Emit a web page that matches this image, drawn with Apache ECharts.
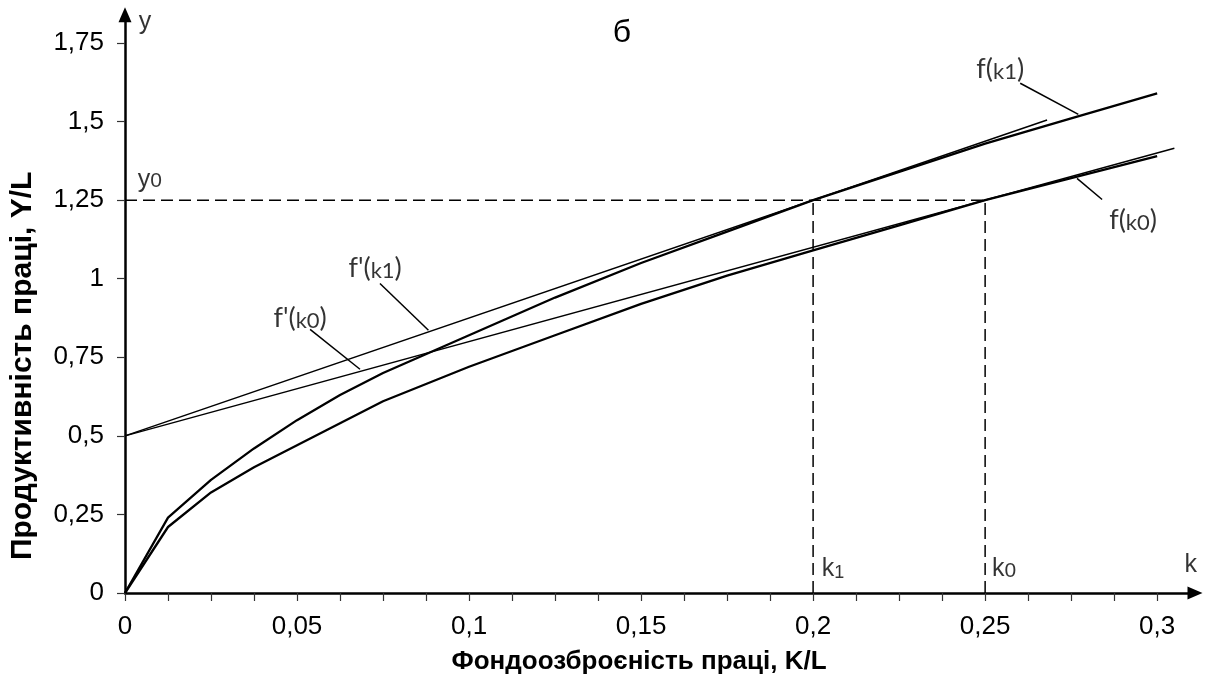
<!DOCTYPE html>
<html>
<head>
<meta charset="utf-8">
<script src="https://cdn.jsdelivr.net/npm/echarts@6/dist/echarts.min.js"></script>
<style>html,body{margin:0;padding:0;background:#fff}#c{width:1211px;height:691px}</style>
</head>
<body>
<div id="c"></div>
<script>
// ---- data ----
const kValues   = [0, 0.0125, 0.025, 0.0375, 0.05, 0.0625, 0.075, 0.1, 0.125, 0.15, 0.175, 0.2, 0.225, 0.25, 0.275, 0.3];
const fK1Values = [0, 0.24, 0.36, 0.46, 0.55, 0.63, 0.70, 0.82, 0.94, 1.05, 1.15, 1.25, 1.34, 1.43, 1.51, 1.59];
const fK0Values = [0, 0.21, 0.32, 0.40, 0.47, 0.54, 0.61, 0.72, 0.82, 0.92, 1.01, 1.09, 1.17, 1.25, 1.32, 1.39];
const tangentK1 = [[0, 0.5], [0.268, 1.505]];
const tangentK0 = [[0, 0.5], [0.305, 1.415]];
const k1 = 0.2, k0 = 0.25, y0 = 1.25;
const xTickValues  = [0,0.0125,0.025,0.0375,0.05,0.0625,0.075,0.0875,0.1,0.1125,0.125,0.1375,0.15,0.1625,0.175,0.1875,0.2,0.2125,0.225,0.2375,0.25,0.2625,0.275,0.2875,0.3];
const xLabelValues = [0, 0.05, 0.1, 0.15, 0.2, 0.25, 0.3];
const yTickValues  = [0, 0.25, 0.5, 0.75, 1, 1.25, 1.5, 1.75];
const title = 'б';
const xName = 'Фондоозброєність праці, K/L';
const yName = 'Продуктивність праці, Y/L';

const comma = v => String(+v.toFixed(4)).replace('.', ',');
const pairs = (xs, ys) => xs.map((x, i) => [x, ys[i]]);

// annotations
const annotations = [
  {fmt: '{a|f(}{b|k1}{a|)}', at: [0.2544, 1.672]},
  {fmt: '{a|f(}{b|k0}{a|)}', at: [0.293, 1.190]},
  {fmt: "{a|f'(}{b|k1}{a|)}", at: [0.0727, 1.037]},
  {fmt: "{a|f'(}{b|k0}{a|)}", at: [0.0509, 0.878]}
];
const leaders = [
  [[0.2602, 1.622], [0.2771, 1.523]],
  [[0.2767, 1.319], [0.2840, 1.252]],
  [[0.0741, 0.985], [0.0882, 0.836]],
  [[0.0538, 0.839], [0.0683, 0.712]]
];
const axisMarks = [
  {fmt: '{m|y}', at: [0.0058, 1.82]},
  {fmt: '{m|y}{s|0}', at: [0.0072, 1.32]},
  {fmt: '{m|k}{u|1}', at: [0.2058, 0.08]},
  {fmt: '{m|k}{s|0}', at: [0.2555, 0.08]},
  {fmt: '{m|k}', at: [0.3098, 0.095]}
];

const chart = echarts.init(document.getElementById('c'), null, {renderer: 'canvas'});

const lineSeries = (data, w, dashed) => ({
  type: 'line', data, symbol: 'none', silent: true, z: 3,
  lineStyle: {color: '#000', width: w, type: dashed ? [12, 6] : 'solid'},
  animation: false
});

const series = [
  lineSeries(pairs(kValues, fK1Values), 2.3),
  lineSeries(pairs(kValues, fK0Values), 2.3),
  lineSeries(tangentK1, 1.5),
  lineSeries(tangentK0, 1.5),
  lineSeries([[0, y0], [k0, y0]], 1.5, true),
  lineSeries([[k1, 0], [k1, y0]], 1.5, true),
  lineSeries([[k0, 0], [k0, y0]], 1.5, true)
];
leaders.forEach(l => series.push(lineSeries(l, 1.5)));

const rich = {
  a: {fontFamily: 'Lato', fontSize: 27, color: '#000', verticalAlign: 'bottom', lineHeight: 30},
  b: {fontFamily: 'Lato', fontSize: 22, color: '#000', verticalAlign: 'bottom', lineHeight: 27},
  m: {fontFamily: 'Liberation Sans', fontSize: 25, color: '#000', verticalAlign: 'bottom', lineHeight: 28},
  s: {fontFamily: 'Liberation Sans', fontSize: 21, color: '#000', verticalAlign: 'bottom', lineHeight: 26},
  u: {fontFamily: 'Liberation Sans', fontSize: 18, color: '#000', verticalAlign: 'bottom', lineHeight: 19}
};

series.push({
  type: 'scatter', symbolSize: 1, itemStyle: {color: 'rgba(0,0,0,0)'}, silent: true, animation: false,
  data: annotations.concat(axisMarks).map(a => ({
    value: a.at,
    label: {show: true, position: 'inside', formatter: a.fmt, rich}
  }))
});

chart.setOption({
  animation: false,
  backgroundColor: '#fff',
  title: {
    text: title, left: 617, top: 12, textAlign: 'center',
    textStyle: {fontFamily: 'Liberation Sans', fontSize: 32, fontWeight: 'normal', color: '#000'}
  },
  grid: {left: 125, right: 16, top: 14.7, bottom: 98},
  xAxis: {
    type: 'value', min: 0, max: 0.311,
    name: xName, nameLocation: 'middle', nameGap: 56,
    nameTextStyle: {fontFamily: 'Liberation Sans', fontWeight: 'bold', fontSize: 26, color: '#000', padding: [0, 42, 0, 0]},
    splitLine: {show: false},
    axisLine: {show: true, onZero: false, lineStyle: {color: '#000', width: 2.5},
      symbol: ['none', 'triangle'], symbolSize: [13, 15]},
    axisTick: {show: true, inside: false, length: 8, customValues: xTickValues, lineStyle: {color: '#333', width: 1.2}},
    axisLabel: {customValues: xLabelValues, margin: 21, fontFamily: 'Liberation Sans', fontSize: 26, color: '#000', formatter: comma}
  },
  yAxis: {
    type: 'value', min: 0, max: 1.84,
    name: yName, nameLocation: 'middle', nameGap: 87, nameRotate: 90,
    nameTextStyle: {fontFamily: 'Liberation Sans', fontWeight: 'bold', fontSize: 30, color: '#000', padding: [0, 124, 0, 0]},
    splitLine: {show: false},
    axisLine: {show: true, onZero: false, lineStyle: {color: '#000', width: 2.5},
      symbol: ['none', 'triangle'], symbolSize: [13, 15]},
    axisTick: {show: true, inside: false, length: 8, customValues: yTickValues, lineStyle: {color: '#333', width: 1.2}},
    axisLabel: {customValues: yTickValues, margin: 21, fontFamily: 'Liberation Sans', fontSize: 26, color: '#000', formatter: comma}
  },
  series
});
</script>
</body>
</html>
